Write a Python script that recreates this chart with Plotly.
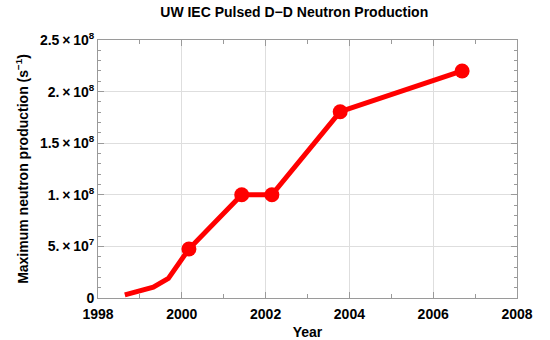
import plotly.graph_objects as go

years = [1998.64, 1999.04, 1999.32, 1999.68, 2000.17, 2001.43, 2002.15, 2003.78, 2006.69]
production = [3.0e6, 7.0e6, 1.04e7, 1.9e7, 4.75e7, 1.0e8, 1.0e8, 1.805e8, 2.2e8]
has_marker = [False, False, False, False, True, True, True, True, True]

x_ticks = [1998, 2000, 2002, 2004, 2006, 2008]
x_ticktext = ["1998", "2000", "2002", "2004", "2006", "2008"]
y_ticks = [0, 5e7, 1e8, 1.5e8, 2e8, 2.5e8]
y_ticktext = ["0", "5.\u2009\u00d7\u200910<sup>7</sup>", "1.\u2009\u00d7\u200910<sup>8</sup>",
              "1.5\u2009\u00d7\u200910<sup>8</sup>", "2.\u2009\u00d7\u200910<sup>8</sup>",
              "2.5\u2009\u00d7\u200910<sup>8</sup>"]

RED = "#ff0000"
FONT = "Liberation Sans, Arial, sans-serif"

fig = go.Figure()
fig.add_trace(go.Scatter(
    x=years, y=production, mode="lines",
    line=dict(color=RED, width=5), showlegend=False, hoverinfo="skip"))
mx = [x for x, m in zip(years, has_marker) if m]
my = [y for y, m in zip(production, has_marker) if m]
fig.add_trace(go.Scatter(
    x=mx, y=my, mode="markers",
    marker=dict(color=RED, size=15, line=dict(width=0)), showlegend=False))

axis_common = dict(
    showline=True, linecolor="#9a9a9a", linewidth=1, mirror="allticks",
    ticks="inside", tickcolor="#9a9a9a", tickwidth=1,
    showgrid=True, gridcolor="#dedede", gridwidth=1, zeroline=False,
    tickfont=dict(family=FONT, size=14, color="black", weight="bold"),
    automargin=False,
)

fig.update_xaxes(
    range=[1998, 2008], tickvals=x_ticks, ticktext=x_ticktext, ticklen=6,
    ticklabelstandoff=3,
    minor=dict(dtick=1, tick0=1999, ticks="inside", ticklen=4, tickcolor="#9a9a9a", showgrid=False),
    title=dict(text="Year", font=dict(family=FONT, size=14, color="black", weight="bold"), standoff=10),
    **axis_common)
fig.update_yaxes(
    range=[0, 2.5e8], tickvals=y_ticks, ticktext=y_ticktext, ticklen=6,
    minor=dict(dtick=1e7, tick0=0, ticks="inside", ticklen=3, tickcolor="#9a9a9a", showgrid=False),
    title=dict(text="Maximum neutron production (s<sup>\u22121</sup>)",
               font=dict(family=FONT, size=14, color="black", weight="bold"), standoff=8),
    **axis_common)

fig.update_layout(
    width=550, height=340,
    margin=dict(l=98, r=33, t=40, b=42),
    paper_bgcolor="white", plot_bgcolor="white",
    title=dict(text="UW IEC Pulsed D\u2212D Neutron Production",
               font=dict(family=FONT, size=14, color="black", weight="bold"),
               x=0.535, xanchor="center", y=0.965, yanchor="middle"),
)

fig.write_html("out.html")
